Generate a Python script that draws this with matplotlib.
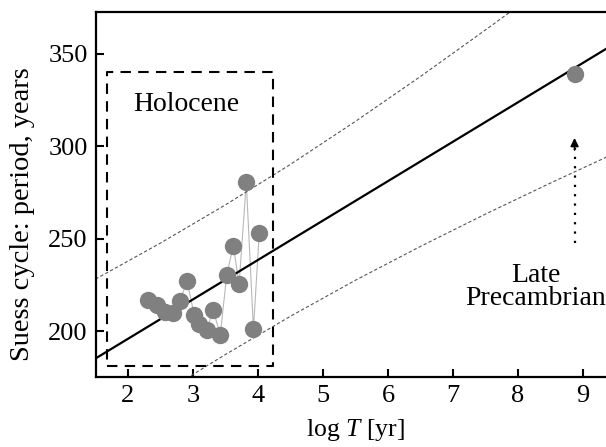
import matplotlib
matplotlib.use("Agg")
import matplotlib.pyplot as plt
import numpy as np

# Holocene Suess-cycle periods vs log age
holo_logT = [2.31, 2.44, 2.57, 2.70, 2.80, 2.91, 3.02, 3.10, 3.21, 3.31, 3.42,
             3.52, 3.62, 3.71, 3.82, 3.93, 4.02]
holo_period = [217, 214, 210.5, 209.5, 216.5, 227, 208.5, 204, 200.5, 211.5, 198,
               230.5, 246, 225.5, 280.5, 201, 253]

# Late Precambrian point
precamb_logT = [8.87]
precamb_period = [339]

# regression line
fit_slope = 21.34
fit_intercept = 153.1

# dashed bands
upper_x = [1.5, 2.5, 3.5, 4.5, 5.5, 6.5, 7.5, 8.0]
upper_y = [228.1, 247.6, 268.3, 290.2, 313.5, 337.8, 363.0, 375.8]
lower_x = [2.9, 3.5, 4.5, 5.5, 6.5, 7.5, 8.5, 9.5]
lower_y = [174.3, 187.3, 208.0, 227.5, 245.8, 263.3, 280.1, 296.4]

# Holocene box (x0, x1, y0, y1)
box_x = [1.67, 4.23]
box_y = [181.0, 340.4]

xticks = [2, 3, 4, 5, 6, 7, 8, 9]
yticks = [200, 250, 300, 350]

plt.rcParams['font.family'] = ['Liberation Serif', 'DejaVu Serif']
plt.rcParams['mathtext.fontset'] = 'custom'
plt.rcParams['mathtext.rm'] = 'Liberation Serif'
plt.rcParams['mathtext.it'] = 'Liberation Serif:italic'

fig = plt.figure(figsize=(6.06, 4.47), dpi=100)
ax = fig.add_axes([0.1584, 0.1566, 0.8573, 0.8166])
ax.set_xlim(1.508, 9.5)
ax.set_ylim(175.1, 372.7)

grey = '#808080'

# regression line across the whole axis
xs = np.array(ax.get_xlim())
ax.plot(xs, fit_intercept + fit_slope * xs, color='black', lw=1.6, zorder=3)

# prediction bands
ax.plot(upper_x, upper_y, color='#555555', lw=0.8, ls=(0, (3, 2)), zorder=2)
ax.plot(lower_x, lower_y, color='#555555', lw=0.8, ls=(0, (3, 2)), zorder=2)

# data
ax.plot(holo_logT, holo_period, color='#b8b8b8', lw=0.8, zorder=1)
ax.plot(holo_logT, holo_period, 'o', color=grey, ms=12.5, mec='none', zorder=4)
ax.plot(precamb_logT, precamb_period, 'o', color=grey, ms=12.5, mec='none', zorder=4)

# Holocene box
ax.plot([box_x[0], box_x[1], box_x[1], box_x[0], box_x[0]],
        [box_y[0], box_y[0], box_y[1], box_y[1], box_y[0]],
        color='black', lw=1.5, ls=(0, (5, 3.5)), zorder=5)
ax.text(2.9, 322.5, 'Holocene', ha='center', va='center', fontsize=20)

# dotted arrow toward the Precambrian point
ax.plot([8.87, 8.87], [247.5, 299], color='black', lw=1.6, ls=(0, (1, 3.2)))
ax.annotate('', xy=(8.87, 304.5), xytext=(8.87, 298),
            arrowprops=dict(arrowstyle='-|>', color='black', lw=1.2,
                            mutation_scale=12, shrinkA=0, shrinkB=0))
ax.text(8.27, 224, 'Late\nPrecambrian', ha='center', va='center',
        fontsize=20, linespacing=0.9)

ax.set_xticks(xticks)
ax.set_yticks(yticks)
ax.tick_params(direction='in', length=6, width=1.5, labelsize=19, pad=6)
for side in ['left', 'bottom', 'top']:
    ax.spines[side].set_linewidth(1.6)
ax.spines['right'].set_visible(False)

ax.set_xlabel('log $T$ [yr]', fontsize=18.5, labelpad=7)
ax.set_ylabel('Suess cycle: period, years', fontsize=20.5)
ax.yaxis.set_label_coords(-0.117, 0.447)

fig.savefig('out.png', dpi=100)
